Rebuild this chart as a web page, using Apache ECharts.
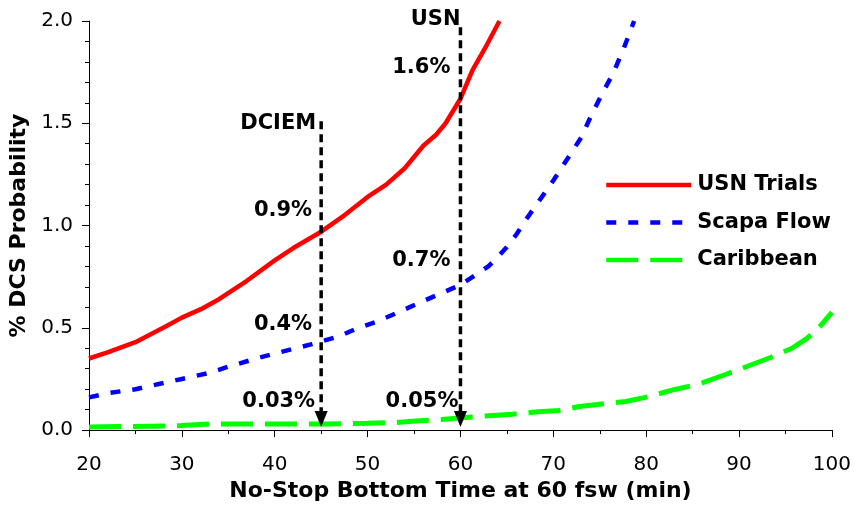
<!DOCTYPE html>
<html>
<head>
<meta charset="utf-8">
<script src="https://cdn.jsdelivr.net/npm/echarts@6/dist/echarts.min.js"></script>
<style>html,body{margin:0;padding:0;background:#fff}#c{width:854px;height:507px}</style>
</head>
<body>
<div id="c"></div>
<script>
// ---- data ----
var usnTrials = [[20,0.35],[22,0.38],[25,0.43],[28.4,0.51],[30,0.55],[32,0.59],[34,0.64],[37,0.73],[40,0.83],[42,0.89],[45,0.97],[47.5,1.05],[50,1.14],[52,1.20],[54,1.28],[56,1.39],[57.4,1.445],[58.4,1.50],[60,1.62],[61.3,1.76],[62.8,1.88],[64.2,2.0]];
var scapaFlow = [[20,0.16],[22,0.18],[25,0.20],[28,0.23],[30,0.25],[33,0.28],[35,0.31],[38,0.35],[40.5,0.38],[44,0.42],[47,0.46],[49,0.50],[51,0.53],[53,0.57],[55.7,0.625],[58,0.67],[60,0.71],[62,0.77],[63,0.80],[64,0.845],[65,0.895],[66,0.955],[67,1.025],[68,1.09],[69,1.155],[70,1.22],[71,1.29],[72,1.36],[73,1.43],[74,1.53],[75.1,1.63],[76.5,1.75],[77.7,1.88],[78.7,2.0]];
var caribbean = [[20,0.015],[25,0.018],[30,0.022],[33,0.03],[40.5,0.03],[45.7,0.03],[50,0.034],[53,0.037],[55.2,0.045],[58,0.052],[60.6,0.062],[65.6,0.078],[68,0.088],[70.6,0.096],[72.8,0.115],[75.6,0.13],[77.8,0.14],[79.9,0.16],[83.2,0.20],[85.7,0.225],[88.6,0.273],[90.2,0.30],[93.4,0.355],[95.7,0.40],[97.2,0.445],[98.4,0.49],[100,0.575]];
var seriesNames = ['USN Trials','Scapa Flow','Caribbean'];
var dciemLine = [[45,1.51],[45,0.09]];
var usnLine = [[60,1.97],[60,0.09]];
var arrowHeads = [[45,0.054],[60,0.054]];
// annotation labels: [x, y, text, gap]
var annotations = [
  [45,1.50,'DCIEM',5],
  [60,2.005,'USN',0],
  [60,1.772,'1.6%',10],
  [45,1.074,'0.9%',9],
  [45,0.518,'0.4%',9],
  [45,0.142,'0.03%',6],
  [60,0.83,'0.7%',10],
  [60,0.142,'0.05%',2]
];
var xTicks = {min:20,max:100,interval:10};
var yTicks = {min:0,max:2,interval:0.5};

var FONT = 'DejaVu Sans';
var chart = echarts.init(document.getElementById('c'), null, {renderer:'canvas'});
var option = {
  animation:false,
  backgroundColor:'#ffffff',
  textStyle:{fontFamily:FONT},
  grid:{left:89,right:21,top:21,bottom:76,containLabel:false},
  legend:{
    data:seriesNames, orient:'vertical', left:604, top:173, padding:0,
    itemWidth:85, itemHeight:14, itemGap:13.5,
    itemStyle:{opacity:0,borderWidth:0},
    lineStyle:{width:4.5,opacity:1},
    textStyle:{fontFamily:FONT,fontWeight:'bold',fontSize:21,color:'#000',lineHeight:24,padding:[0,0,0,1]}
  },
  xAxis:{
    type:'value', min:xTicks.min, max:xTicks.max, interval:xTicks.interval,
    name:'No-Stop Bottom Time at 60 fsw (min)', nameLocation:'middle', nameGap:47,
    nameTextStyle:{fontFamily:FONT,fontWeight:'bold',fontSize:22,color:'#000'},
    axisLine:{onZero:false,lineStyle:{color:'#000',width:1}},
    axisTick:{show:true,inside:false,length:7,lineStyle:{color:'#000'}},
    minorTick:{show:true,splitNumber:2,length:4,lineStyle:{color:'#000'}},
    axisLabel:{fontFamily:FONT,fontSize:20,color:'#000',margin:25},
    splitLine:{show:false}
  },
  yAxis:{
    type:'value', min:yTicks.min, max:yTicks.max, interval:yTicks.interval,
    name:'% DCS Probability', nameLocation:'middle', nameGap:55, nameRotate:90,
    nameTextStyle:{fontFamily:FONT,fontWeight:'bold',fontSize:22,color:'#000'},
    axisLine:{show:true,lineStyle:{color:'#000',width:1}},
    axisTick:{show:true,inside:false,length:7,lineStyle:{color:'#000'}},
    minorTick:{show:true,splitNumber:5,length:4,lineStyle:{color:'#000'}},
    axisLabel:{fontFamily:FONT,fontSize:20,color:'#000',margin:16,formatter:function(v){return v.toFixed(1);}},
    splitLine:{show:false}
  },
  series:[
    {name:seriesNames[0],type:'line',data:usnTrials,showSymbol:false,symbol:'none',smooth:false,
     lineStyle:{color:'#ff0000',width:4.5},itemStyle:{color:'#ff0000'},z:3},
    {name:seriesNames[1],type:'line',data:scapaFlow,showSymbol:false,symbol:'none',
     lineStyle:{color:'#0000ff',width:4.5,type:[10,12]},itemStyle:{color:'#0000ff'},z:3},
    {name:seriesNames[2],type:'line',data:caribbean,showSymbol:false,symbol:'none',
     lineStyle:{color:'#00ff00',width:5,type:[32,12]},itemStyle:{color:'#00ff00'},z:3},
    {name:'dciem',type:'line',data:dciemLine,symbol:'none',silent:true,
     lineStyle:{color:'#000',width:3.5,type:[8,5]},z:5},
    {name:'usn',type:'line',data:usnLine,symbol:'none',silent:true,
     lineStyle:{color:'#000',width:3.5,type:[8,5]},z:5},
    {name:'arrows',type:'scatter',data:arrowHeads,symbol:'triangle',symbolRotate:180,symbolSize:[13,16],
     itemStyle:{color:'#000',opacity:1},silent:true,z:6},
    {name:'labels',type:'scatter',symbolSize:0,silent:true,z:7,clip:false,
     itemStyle:{opacity:1},
     data:annotations.map(function(a){return {value:[a[0],a[1]],name:a[2],
       label:{show:true,position:'left',distance:a[3],formatter:a[2],
              fontFamily:FONT,fontWeight:'bold',fontSize:21,color:'#000'}};})}
  ]
};
chart.setOption(option);
</script>
</body>
</html>
